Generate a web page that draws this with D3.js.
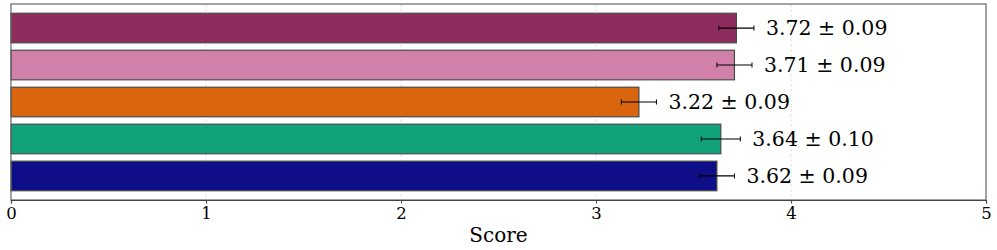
<!DOCTYPE html>
<html>
<head>
<meta charset="utf-8">
<script src="https://cdn.jsdelivr.net/npm/d3@7"></script>
<style>
  body { margin: 0; background: #fff; }
  svg { display: block; font-family: "DejaVu Serif", serif; }
</style>
</head>
<body>
<svg id="chart"></svg>
<script>
// Data (top to bottom)
const groups = ["A", "B", "C", "D", "E"];
const scores = [3.72, 3.71, 3.22, 3.64, 3.62];
const errors = [0.09, 0.09, 0.09, 0.10, 0.09];
const colors = ["#8e2d5d", "#d080a9", "#d9650e", "#10a37b", "#0e0e88"];
const xTicks = [0, 1, 2, 3, 4, 5];

// Dimensions
const svgWidth = 997;
const svgHeight = 250;
const margin = { top: 4, right: 11, bottom: 50, left: 11 };
const width = svgWidth - margin.left - margin.right;
const height = svgHeight - margin.top - margin.bottom;

const svg = d3
  .select("#chart")
  .attr("width", svgWidth)
  .attr("height", svgHeight)
  .append("g")
  .attr("transform", `translate(${margin.left},${margin.top})`);

// Scales
const x = d3.scaleLinear().domain([0, 5]).range([0, width]);
const y = d3
  .scaleBand()
  .domain(groups)
  .range([0, height])
  .paddingInner(0.2)
  .paddingOuter(0.25);

// Grid lines
svg
  .selectAll(".grid")
  .data(xTicks.slice(1, -1))
  .enter()
  .append("line")
  .attr("x1", (d) => x(d))
  .attr("x2", (d) => x(d))
  .attr("y1", 0)
  .attr("y2", height)
  .attr("stroke", "#dcdcdc")
  .attr("stroke-width", 0.8)
  .attr("stroke-dasharray", "3,2");

// Bars
svg
  .selectAll(".bar")
  .data(groups)
  .enter()
  .append("rect")
  .attr("class", "bar")
  .attr("x", x(0))
  .attr("y", (d) => y(d))
  .attr("width", (d, i) => x(scores[i]) - x(0))
  .attr("height", y.bandwidth())
  .attr("fill", (d, i) => colors[i])
  .attr("stroke", "#4a4a4a")
  .attr("stroke-width", 1.2);

// Error bars
const err = svg
  .selectAll(".err")
  .data(groups)
  .enter()
  .append("g")
  .attr("transform", (d) => `translate(0,${y(d) + y.bandwidth() / 2})`);

err
  .append("line")
  .attr("x1", (d, i) => x(scores[i] - errors[i]))
  .attr("x2", (d, i) => x(scores[i] + errors[i]))
  .attr("stroke", "#000")
  .attr("stroke-width", 1.2);

[-1, 1].forEach((s) => {
  err
    .append("line")
    .attr("x1", (d, i) => x(scores[i] + s * errors[i]))
    .attr("x2", (d, i) => x(scores[i] + s * errors[i]))
    .attr("y1", -2.5)
    .attr("y2", 2.5)
    .attr("stroke", "#000")
    .attr("stroke-width", 1);
});

// Value labels
err
  .append("text")
  .attr("x", (d, i) => x(scores[i] + errors[i]) + 12)
  .attr("dy", "0.36em")
  .attr("font-size", 20.5)
  .attr("fill", "#000")
  .text((d, i) => `${scores[i].toFixed(2)} \u00b1 ${errors[i].toFixed(2)}`);

// Frame
svg
  .append("rect")
  .attr("width", width)
  .attr("height", height)
  .attr("fill", "none")
  .attr("stroke", "#666")
  .attr("stroke-width", 1.2);

// X axis
const xAxis = svg
  .append("g")
  .attr("transform", `translate(0,${height})`)
  .call(d3.axisBottom(x).tickValues(xTicks).tickFormat(d3.format("d")).tickSize(3.5).tickPadding(4));

xAxis.select(".domain").attr("stroke", "#444").attr("stroke-width", 1.2);
xAxis.selectAll(".tick line").attr("stroke", "#444");
xAxis
  .selectAll(".tick text")
  .attr("font-family", "DejaVu Serif, serif")
  .attr("font-size", 16.5)
  .attr("fill", "#000");

// Axis title
svg
  .append("text")
  .attr("x", width / 2)
  .attr("y", height + 42)
  .attr("text-anchor", "middle")
  .attr("font-size", 20)
  .attr("fill", "#000")
  .text("Score");
</script>
</body>
</html>
